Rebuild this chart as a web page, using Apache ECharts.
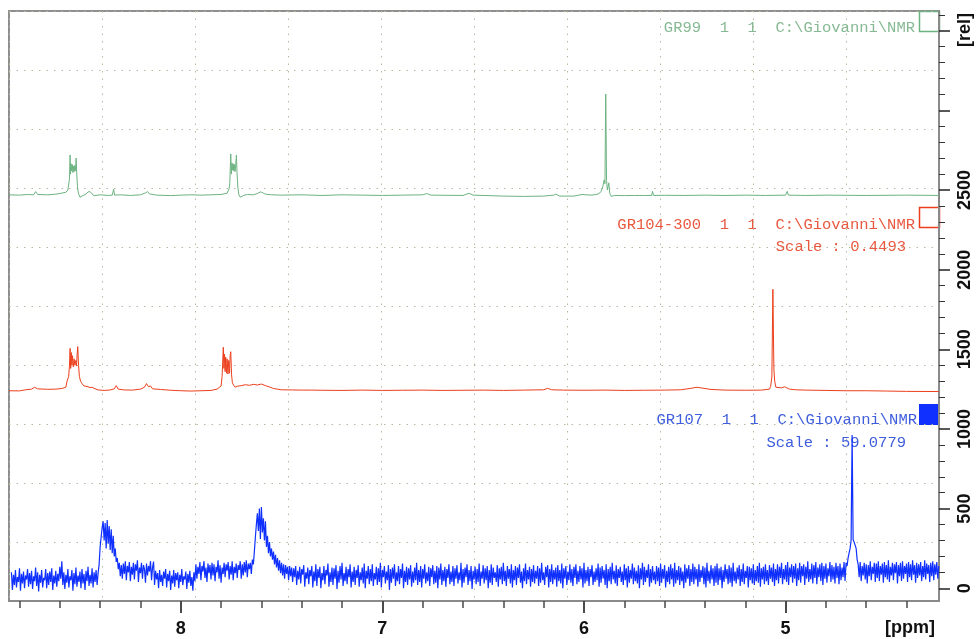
<!DOCTYPE html>
<html>
<head>
<meta charset="utf-8">
<script src="https://cdn.jsdelivr.net/npm/echarts@6/dist/echarts.min.js"></script>
<style>
  html, body { margin: 0; padding: 0; background: #ffffff; }
  #chart { width: 977px; height: 639px; }
</style>
</head>
<body>
<div id="chart"></div>
<script>
// ---- axis ticks -------------------------------------------------------
const ppmMajorTicks = [5, 6, 7, 8];
const ppmMinorTicks = [4.4, 4.6, 4.8, 5.2, 5.4, 5.6, 5.8, 6.2, 6.4, 6.6, 6.8,
                       7.2, 7.4, 7.6, 7.8, 8.2, 8.4, 8.6, 8.8];
const relMajorTicks = [0, 500, 1000, 1500, 2000, 2500, 3000, 3500];
const relLabelValues = [0, 500, 1000, 1500, 2000, 2500];
const relMinorTicks = [100, 200, 300, 400, 600, 700, 800, 900, 1100, 1200, 1300, 1400,
                       1600, 1700, 1800, 1900, 2100, 2200, 2300, 2400, 2600, 2700, 2800, 2900,
                       3100, 3200, 3300, 3400, 3600];

// ---- spectrum titles ----------------------------------------------------
const spectrumNames = ['GR99  1  1  C:\\Giovanni\\NMR',
                       'GR104-300  1  1  C:\\Giovanni\\NMR',
                       'GR107  1  1  C:\\Giovanni\\NMR'];
const scaleNotes = ['', 'Scale : 0.4493', 'Scale : 59.0779'];

// ---- GR99 : [ppm, rel] ------------------------------------------------
const gr99 = [
  [8.852, 2470], [8.80, 2468], [8.76, 2472], [8.73, 2470], [8.72, 2490], [8.71, 2472],
  [8.66, 2470], [8.62, 2474], [8.60, 2478], [8.57, 2486], [8.56, 2500],
  [8.556, 2510], [8.552, 2570], [8.549, 2720], [8.547, 2600], [8.544, 2665], [8.541, 2620],
  [8.538, 2660], [8.535, 2610], [8.532, 2650], [8.529, 2615], [8.526, 2655], [8.522, 2620],
  [8.519, 2700], [8.516, 2600], [8.512, 2520], [8.508, 2480], [8.50, 2455], [8.49, 2462],
  [8.47, 2475], [8.46, 2488], [8.455, 2478], [8.45, 2490], [8.44, 2476], [8.43, 2465],
  [8.40, 2470], [8.36, 2466], [8.34, 2468], [8.333, 2505], [8.328, 2468], [8.30, 2470],
  [8.25, 2466], [8.20, 2470], [8.175, 2482], [8.165, 2490], [8.155, 2476], [8.12, 2468],
  [8.05, 2465], [8.00, 2468], [7.95, 2470], [7.90, 2468], [7.85, 2470], [7.80, 2472],
  [7.77, 2480], [7.76, 2510],
  [7.757, 2540], [7.752, 2727], [7.749, 2600], [7.746, 2670], [7.743, 2625], [7.740, 2665],
  [7.737, 2620], [7.734, 2660], [7.731, 2615], [7.728, 2650], [7.724, 2720], [7.721, 2610],
  [7.717, 2520], [7.712, 2470], [7.705, 2455], [7.69, 2465], [7.67, 2472], [7.64, 2470],
  [7.62, 2478], [7.605, 2488], [7.595, 2484], [7.58, 2474], [7.55, 2470], [7.50, 2468],
  [7.40, 2470], [7.30, 2466], [7.20, 2470], [7.10, 2468], [7.00, 2466], [6.90, 2468],
  [6.80, 2470], [6.78, 2478], [6.76, 2468], [6.60, 2466], [6.57, 2480], [6.55, 2468],
  [6.40, 2462], [6.30, 2460], [6.20, 2462], [6.15, 2468], [6.14, 2474], [6.12, 2462],
  [6.05, 2462], [6.01, 2472], [5.99, 2470], [5.96, 2468], [5.93, 2475], [5.915, 2490],
  [5.905, 2530], [5.900, 2563], [5.896, 2540], [5.892, 3103], [5.888, 2560], [5.884, 2500],
  [5.877, 2545], [5.872, 2480], [5.865, 2460], [5.85, 2466], [5.80, 2465], [5.75, 2466],
  [5.70, 2466], [5.664, 2466], [5.660, 2492], [5.655, 2466], [5.60, 2467], [5.50, 2466],
  [5.40, 2468], [5.30, 2466], [5.20, 2468], [5.10, 2466], [5.00, 2468], [4.992, 2492],
  [4.986, 2468], [4.90, 2466], [4.80, 2468], [4.60, 2466], [4.40, 2468], [4.239, 2466]
];

// ---- GR104-300 : [ppm, rel] -------------------------------------------
const gr104 = [
  [8.852, 1240], [8.80, 1239], [8.77, 1246], [8.74, 1250], [8.725, 1262], [8.72, 1274],
  [8.71, 1252], [8.66, 1249], [8.62, 1250], [8.59, 1254], [8.57, 1262],
  [8.564, 1300], [8.556, 1330], [8.552, 1400], [8.549, 1506], [8.546, 1380], [8.543, 1480],
  [8.540, 1400], [8.537, 1460], [8.533, 1390], [8.529, 1440], [8.525, 1400], [8.521, 1430],
  [8.517, 1395], [8.514, 1470], [8.511, 1517], [8.507, 1400], [8.503, 1330], [8.497, 1300],
  [8.49, 1285], [8.48, 1270], [8.47, 1268], [8.46, 1265], [8.45, 1260], [8.44, 1262],
  [8.43, 1255], [8.41, 1245], [8.38, 1242], [8.35, 1245], [8.33, 1252], [8.32, 1272],
  [8.31, 1250], [8.28, 1245], [8.24, 1244], [8.20, 1250], [8.18, 1262], [8.17, 1285],
  [8.16, 1265], [8.15, 1270], [8.14, 1252], [8.10, 1248], [8.05, 1243], [8.00, 1240],
  [7.95, 1238], [7.90, 1240], [7.85, 1242], [7.82, 1250], [7.80, 1270],
  [7.795, 1330], [7.792, 1420], [7.789, 1513], [7.786, 1380], [7.783, 1470], [7.780, 1360],
  [7.777, 1450], [7.773, 1350], [7.770, 1440], [7.766, 1345], [7.762, 1430], [7.758, 1350],
  [7.755, 1460], [7.752, 1485], [7.748, 1340], [7.744, 1290], [7.738, 1275], [7.73, 1262],
  [7.72, 1268], [7.70, 1272], [7.68, 1278], [7.66, 1274], [7.64, 1280], [7.62, 1276],
  [7.60, 1282], [7.58, 1272], [7.56, 1264], [7.54, 1254], [7.52, 1250], [7.50, 1246],
  [7.45, 1245], [7.40, 1244], [7.35, 1244], [7.30, 1243], [7.20, 1242], [7.10, 1244],
  [7.00, 1242], [6.90, 1243], [6.80, 1244], [6.70, 1242], [6.60, 1243], [6.50, 1244],
  [6.40, 1242], [6.30, 1244], [6.20, 1246], [6.18, 1255], [6.16, 1246], [6.10, 1244],
  [6.00, 1243], [5.90, 1244], [5.80, 1242], [5.70, 1243], [5.60, 1244], [5.52, 1246],
  [5.47, 1255], [5.44, 1262], [5.41, 1256], [5.37, 1248], [5.30, 1244], [5.20, 1243],
  [5.12, 1244], [5.08, 1250], [5.074, 1268], [5.068, 1326], [5.063, 1877], [5.058, 1377],
  [5.054, 1300], [5.048, 1262], [5.04, 1256], [5.02, 1258], [5.005, 1265], [4.999, 1276],
  [4.994, 1258], [4.98, 1250], [4.95, 1246], [4.90, 1244], [4.80, 1242], [4.70, 1240],
  [4.60, 1240], [4.50, 1238], [4.40, 1236], [4.239, 1235]
];

// ---- GR107 : sampled every 0.005 ppm from 8.84 ppm downwards -------------
const gr107Start = 8.84;
const gr107Step = 0.005;
const gr107 = [
  100, -10, 85, 20, 115, 5, 70, 40, 125, -15, 90, 30, 105, 0, 80, 55, 120, 10, 95, 25,
  110, -5, 75, 45, 130, 15, 100, -20, 85, 35, 115, 5, 65, 50, 120, 0, 95, 20, 105, 40,
  125, -10, 80, 30, 110, 10, 90, 45, 135, 60, 170, 20, 100, -5, 85, 35, 120, 5, 75, 50,
  115, -15, 95, 25, 130, 10, 80, 40, 105, 0, 120, 30, 90, -10, 110, 45, 135, 15, 85, 30,
  125, 5, 100, 40, 115, 20, 95, 150, 260, 320, 380, 420, 300, 410, 250, 429, 280, 390, 240, 370,
  220, 330, 200, 250, 165, 190, 120, 160, 75, 145, 60, 155, 90, 170, 50, 140, 100, 165, 45, 135,
  85, 160, 55, 150, 110, 175, 40, 130, 95, 160, 60, 145, 120, 35, 155, 80, 140, 105, 170, 50,
  130, 168, 20, 110, 55, 95, 0, 115, 40, 85, 15, 105, 60, 120, 5, 90, 45, 110, -10, 80,
  30, 115, 10, 95, 50, 100, 0, 85, 40, 120, 20, 75, 55, 105, -5, 90, 35, 110, 15, 70,
  -15, 100, 45, 150, 60, 135, 90, 165, 50, 140, 105, 170, 65, 130, 40, 155, 95, 145, 55, 160,
  80, 150, 45, 135, 100, 175, 60, 145, 35, 130, 90, 160, 70, 150, 110, 165, 55, 140, 85, 170,
  50, 135, 95, 155, 65, 145, 115, 170, 60, 150, 80, 165, 100, 175, 70, 155, 120, 160, 90, 180,
  150, 230, 320, 400, 470, 360, 500, 310, 510, 350, 440, 300, 420, 260, 330, 220, 290, 200, 250, 180,
  230, 150, 210, 130, 190, 110, 175, 95, 160, 80, 150, 60, 145, 90, 135, 50, 140, 75, 130, 40,
  125, 70, 140, 20, 110, 55, 135, 30, 120, 85, 145, 10, 100, 60, 130, 25, 115, 75, 140, 5,
  105, 45, 150, 15, 120, 65, 135, 0, 95, 50, 140, 25, 115, 80, 155, 10, 100, 40, 130, 20,
  125, 60, 145, -5, 110, 35, 140, 55, 160, 15, 95, 45, 135, 25, 120, 70, 150, 5, 105, 40,
  135, 20, 115, 65, 145, 10, 100, 50, 130, 30, 155, 0, 110, 60, 140, 25, 120, 45, 150, 15,
  95, 55, 135, 20, 125, 40, 160, 5, 115, 70, 140, 30, 105, 50, 145, -10, 120, 35, 130, 60,
  150, 15, 100, 45, 140, 25, 120, 65, 155, 0, 110, 40, 135, 20, 125, 55, 145, 10, 105, 35,
  130, 50, 160, 20, 115, 40, 140, 5, 120, 60, 150, 30, 100, 45, 135, 15, 125, 70, 145, 25,
  110, 35, 140, 0, 130, 55, 155, 20, 115, 45, 135, 10, 120, 65, 150, 25, 105, 40, 140, 15,
  125, 60, 145, 30, 100, 50, 160, 5, 120, 35, 130, 70, 150, 20, 115, 45, 140, -5, 110, 55,
  135, 25, 120, 40, 155, 15, 105, 60, 145, 30, 125, 50, 140, 0, 115, 35, 150, 20, 130, 65,
  100, 40, 145, 10, 125, 55, 135, 25, 160, 45, 110, 15, 140, 60, 120, 30, 150, 5, 115, 50,
  140, 20, 130, 65, 150, 35, 105, 0, 125, 45, 155, 25, 115, 55, 135, 10, 120, 40, 145, 30,
  110, 60, 140, 15, 125, 35, 160, 50, 100, 20, 135, 70, 145, 5, 120, 40, 150, 25, 115, 55,
  130, 10, 145, 45, 115, 30, 155, 0, 125, 60, 140, 20, 105, 50, 150, 35, 120, 15, 135, 65,
  150, 25, 110, 40, 140, 55, 125, 5, 160, 30, 115, 45, 135, 15, 120, 70, 145, 20, 105, 40,
  125, 50, 155, 10, 130, 35, 140, 60, 115, 20, 150, 0, 120, 45, 135, 25, 160, 55, 110, 30,
  145, 15, 120, 65, 135, 40, 105, 20, 150, 50, 125, 5, 140, 35, 115, 60, 155, 25, 130, 45,
  110, 30, 145, 0, 125, 55, 160, 20, 135, 40, 115, 65, 150, 10, 120, 35, 140, 50, 105, 25,
  140, 45, 130, 15, 155, 35, 120, 60, 145, 5, 110, 40, 135, 25, 150, 55, 125, 10, 160, 30,
  115, 50, 140, 20, 130, 45, 105, 0, 150, 35, 125, 60, 145, 15, 120, 40, 155, 25, 135, 55,
  120, 10, 150, 40, 115, 65, 140, 25, 130, 5, 160, 45, 110, 30, 145, 55, 125, 15, 140, 35,
  155, 20, 125, 50, 135, 0, 115, 40, 150, 60, 120, 25, 145, 35, 130, 10, 160, 45, 105, 30,
  130, 55, 145, 15, 120, 40, 155, 25, 110, 65, 140, 5, 135, 50, 125, 30, 150, 20, 115, 45,
  140, 35, 160, 10, 125, 55, 135, 25, 150, 45, 115, 20, 145, 60, 130, 40, 155, 15, 120, 50,
  150, 30, 135, 65, 160, 25, 120, 55, 145, 40, 165, 20, 130, 70, 150, 35, 140, 60, 155, 15,
  125, 50, 160, 35, 140, 75, 150, 20, 135, 60, 170, 40, 120, 55, 155, 30, 145, 65, 165, 25,
  130, 70, 150, 45, 160, 20, 140, 60, 155, 35, 125, 75, 165, 40, 145, 55, 135, 30, 160, 65,
  140, 25, 155, 50, 130, 70, 165, 45, 160, 140, 190, 220, 250, 300, 962, 304, 290, 300, 250, 180,
  150, 70, 165, 45, 140, 80, 160, 55, 150, 30, 145, 75, 170, 50, 135, 90, 160, 40, 155, 65,
  170, 45, 140, 85, 155, 35, 165, 70, 145, 55, 175, 40, 135, 80, 160, 50, 150, 95, 165, 30,
  145, 75, 160, 45, 170, 60, 140, 90, 155, 40, 165, 70, 150, 50, 175, 85, 145, 35, 160, 65,
  150, 80, 165, 45, 140, 70, 175, 55, 155, 90, 145, 40, 160, 75, 170, 50, 150, 85, 165, 60,
  140
];

// ---- colours -----------------------------------------------------------
const colGreen = '#6db381', colGreenText = '#86b993';
const colRed = '#ec3f1c', colRedText = '#e8583f';
const colBlue = '#0f30ff', colBlueText = '#3f5ddc';

const ppmMin = 4.239, ppmMax = 8.852;
const relMin = -80, relMax = 3624;

const gr107Data = gr107.map((v, i) => [+(gr107Start - i * gr107Step).toFixed(3), v]);

const chart = echarts.init(document.getElementById('chart'), null, { renderer: 'canvas' });

const labelFont = { fontFamily: 'Liberation Sans, Arial, sans-serif', fontSize: 18, fontWeight: 'bold', color: '#111' };
const monoFont = 'Liberation Mono, DejaVu Sans Mono, monospace';
const plain = v => String(v);

function spectrumLine(data, color, width) {
  return {
    type: 'line', data: data, xAxisIndex: 0, yAxisIndex: 0,
    showSymbol: false, symbol: 'none', smooth: false, sampling: null,
    lineStyle: { color: color, width: width }, silent: true, animation: false
  };
}

const noLine = { show: false, onZero: false };

chart.setOption({
  animation: false,
  backgroundColor: '#ffffff',
  grid: { left: 9, right: 38, top: 11, bottom: 38, show: true, borderColor: '#8f8f8f', borderWidth: 2 },
  xAxis: [
    {
      type: 'value', inverse: true, min: ppmMin, max: ppmMax, position: 'bottom',
      axisLine: { show: true, onZero: false, lineStyle: { color: '#8a8a8a', width: 2 } },
      axisTick: { show: true, customValues: ppmMajorTicks, length: 12, lineStyle: { color: '#4a4a4a', width: 2 } },
      axisLabel: Object.assign({ customValues: ppmMajorTicks, margin: 19, formatter: plain }, labelFont),
      splitLine: { show: false }
    },
    {
      type: 'value', inverse: true, min: ppmMin, max: ppmMax, position: 'bottom',
      axisLine: noLine,
      axisTick: { show: true, customValues: ppmMinorTicks, length: 7, lineStyle: { color: '#4a4a4a', width: 1.5 } },
      axisLabel: { show: false }, splitLine: { show: false }
    },
    {
      type: 'value', min: 0, max: 10, interval: 1, position: 'top',
      axisLine: noLine, axisTick: { show: false }, axisLabel: { show: false },
      splitLine: { show: true, lineStyle: { type: [1.5, 6], color: '#b9b9a0', width: 1 } }
    }
  ],
  yAxis: [
    {
      type: 'value', min: relMin, max: relMax, position: 'right',
      axisLine: { show: true, onZero: false, lineStyle: { color: '#8a8a8a', width: 2 } },
      axisTick: { show: true, customValues: relMajorTicks, length: 11, lineStyle: { color: '#222', width: 1.5 } },
      axisLabel: Object.assign({ customValues: relLabelValues, rotate: 90, margin: 17, formatter: plain }, labelFont),
      splitLine: { show: false }
    },
    {
      type: 'value', min: relMin, max: relMax, position: 'right',
      axisLine: noLine,
      axisTick: { show: true, customValues: relMinorTicks, length: 6, lineStyle: { color: '#333', width: 1 } },
      axisLabel: { show: false }, splitLine: { show: false }
    },
    {
      type: 'value', min: 0, max: 10, interval: 1, position: 'left',
      axisLine: noLine, axisTick: { show: false }, axisLabel: { show: false },
      splitLine: { show: true, lineStyle: { type: [1.5, 6], color: '#b9b9a0', width: 1 } }
    }
  ],
  series: [
    spectrumLine(gr99, colGreen, 1),
    spectrumLine(gr104, colRed, 1),
    spectrumLine(gr107Data, colBlue, 1.2)
  ],
  graphic: [
    // spectrum titles
    { type: 'text', right: 62, top: 20, style: { text: spectrumNames[0], font: '15.5px ' + monoFont, fill: colGreenText } },
    { type: 'text', right: 62, top: 217, style: { text: spectrumNames[1], font: '15.5px ' + monoFont, fill: colRedText } },
    { type: 'text', right: 71, top: 239, style: { text: scaleNotes[1], font: '15.5px ' + monoFont, fill: colRedText } },
    { type: 'text', right: 60, top: 412, style: { text: spectrumNames[2], font: '15.5px ' + monoFont, fill: colBlueText } },
    { type: 'text', right: 71, top: 435, style: { text: scaleNotes[2], font: '15.5px ' + monoFont, fill: colBlueText } },
    // legend swatches
    { type: 'rect', shape: { x: 919.5, y: 11.5, width: 20, height: 20 }, style: { fill: '#ffffff', stroke: colGreen, lineWidth: 1.5 } },
    { type: 'rect', shape: { x: 919.5, y: 207.5, width: 20, height: 20 }, style: { fill: '#ffffff', stroke: colRed, lineWidth: 1.5 } },
    { type: 'rect', shape: { x: 919, y: 404, width: 21, height: 21 }, style: { fill: colBlue } },
    // unit labels
    { type: 'text', x: 910, y: 628, style: { text: '[ppm]', font: 'bold 18px Liberation Sans, Arial, sans-serif', fill: '#111', align: 'center', verticalAlign: 'middle' } },
    { type: 'text', x: 965, y: 30, rotation: Math.PI / 2, style: { text: '[rel]', font: 'bold 18px Liberation Sans, Arial, sans-serif', fill: '#111', align: 'center', verticalAlign: 'middle' } }
  ]
});
</script>
</body>
</html>
